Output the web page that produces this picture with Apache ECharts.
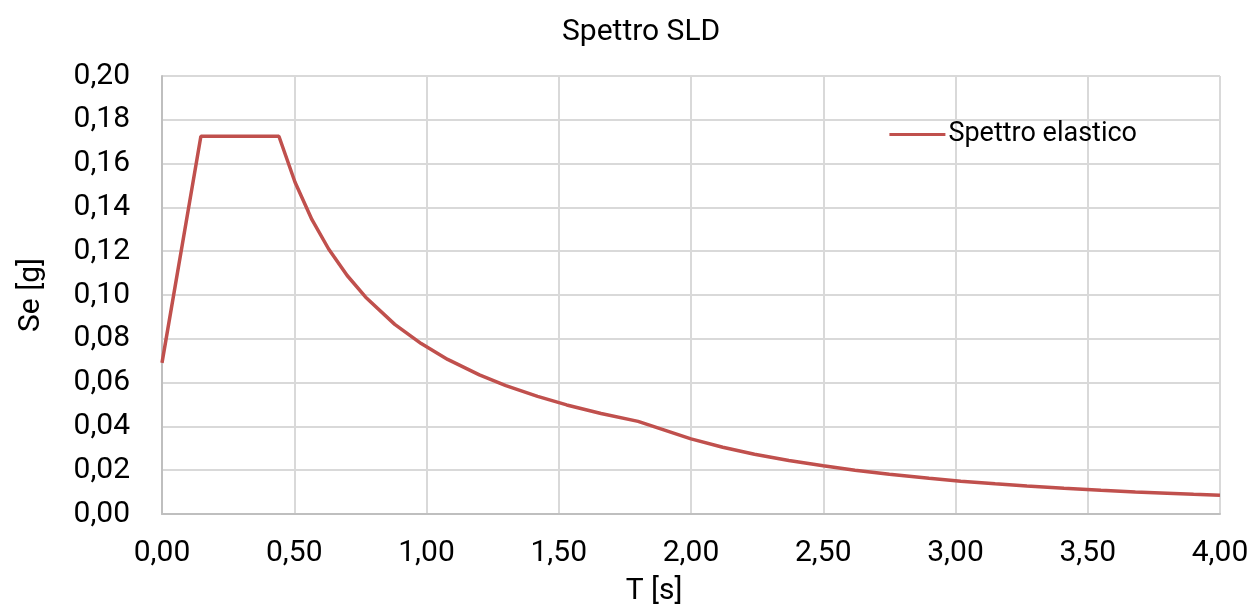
<!DOCTYPE html>
<html>
<head>
<meta charset="utf-8">
<script src="https://cdn.jsdelivr.net/npm/echarts@6/dist/echarts.min.js"></script>
<style>
html,body{margin:0;padding:0;background:#fff;}
#chart{width:1260px;height:607px;}
</style>
</head>
<body>
<div id="chart"></div>
<script>
const T = [0, 0.147, 0.442, 0.503, 0.567, 0.63, 0.70, 0.77, 0.88, 0.98, 1.08, 1.20, 1.30, 1.42, 1.53, 1.66, 1.80,
  2.00, 2.12, 2.24, 2.37, 2.50, 2.62, 2.75, 2.90, 3.02, 3.15, 3.27, 3.41, 3.55, 3.68, 3.80, 3.90, 4.00];
const Se = [0.069, 0.1725, 0.1725, 0.1515, 0.1344, 0.121, 0.1089, 0.099, 0.0866, 0.0778, 0.0706, 0.0635, 0.0586, 0.0537, 0.0498, 0.0459, 0.0423,
  0.0343, 0.0305, 0.0273, 0.0244, 0.0220, 0.0200, 0.0181, 0.0163, 0.0150, 0.0138, 0.0128, 0.0118, 0.0109, 0.0101, 0.0095, 0.0090, 0.0086];
const seriesName = 'Spettro elastico';
const titleText = 'Spettro SLD';
const xName = 'T [s]';
const yName = 'Se [g]';

const FONT = 'Roboto';
const fmt = v => v.toFixed(2).replace('.', ',');
const chart = echarts.init(document.getElementById('chart'), null, {renderer: 'canvas'});
chart.setOption({
  animation: false,
  backgroundColor: '#fff',
  title: {
    text: titleText, left: 557, top: 12,
    textStyle: {fontFamily: FONT, fontSize: 30, fontWeight: 'normal', color: '#000'}
  },
  legend: {
    data: [seriesName], right: 118, top: 116,
    itemWidth: 56, itemHeight: 3, itemGap: 4,
    icon: 'rect',
    textStyle: {fontFamily: FONT, fontSize: 27, color: '#000', padding: [0,0,0,-2]}
  },
  grid: {left: 162, right: 40, top: 76, bottom: 93, containLabel: false, outerBoundsMode: 'none'},
  xAxis: {
    type: 'value', min: 0, max: 4, interval: 0.5,
    name: xName, nameLocation: 'middle', nameGap: 62,
    nameTextStyle: {fontFamily: FONT, fontSize: 30, color: '#000', padding: [0, 74, 0, 0]},
    axisLine: {show: true, lineStyle: {color: '#bfbfbf', width: 2}},
    axisTick: {show: false},
    axisLabel: {formatter: fmt, fontFamily: FONT, fontSize: 30, color: '#000', margin: 24},
    splitLine: {show: true, lineStyle: {color: '#d9d9d9', width: 2}}
  },
  yAxis: {
    type: 'value', min: 0, max: 0.2, interval: 0.02,
    name: yName, nameLocation: 'middle', nameGap: 116, nameRotate: 90,
    nameTextStyle: {fontFamily: FONT, fontSize: 30, color: '#000'},
    axisLine: {show: true, lineStyle: {color: '#bfbfbf', width: 2}},
    axisTick: {show: false},
    axisLabel: {formatter: fmt, fontFamily: FONT, fontSize: 30, color: '#000', margin: 32},
    splitLine: {show: true, lineStyle: {color: '#d9d9d9', width: 2}}
  },
  series: [{
    name: seriesName, type: 'line',
    data: T.map((t, i) => [t, Se[i]]),
    showSymbol: false, smooth: false,
    lineStyle: {color: '#c0504d', width: 3.5},
    itemStyle: {color: '#c0504d'}
  }]
});
</script>
</body>
</html>
